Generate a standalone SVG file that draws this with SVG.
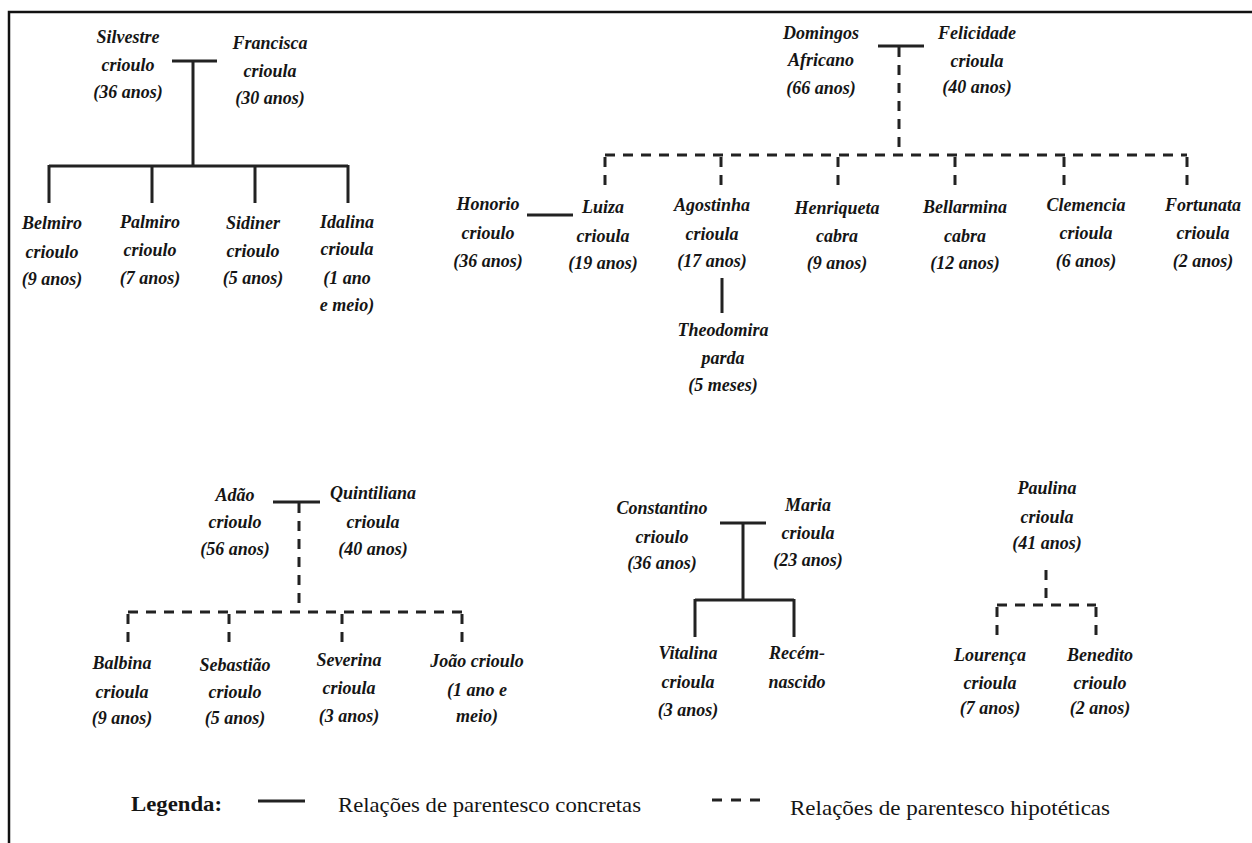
<svg xmlns="http://www.w3.org/2000/svg" width="1252" height="843" viewBox="0 0 1252 843">
<style>
.n{font-family:"Liberation Serif","Times New Roman",serif;font-style:italic;font-weight:bold;font-size:18px;fill:#151515;text-anchor:middle}
.lg{font-family:"Liberation Serif","Times New Roman",serif;font-size:21px;fill:#151515}
.s{stroke:#222;stroke-width:3;fill:none}
.d{stroke:#222;stroke-width:3;fill:none;stroke-dasharray:10 8}
.b{stroke:#111;stroke-width:2.5;fill:none}
</style>
<rect width="1252" height="843" fill="#fff"/>
<path class="b" d="M9 843V12H1252"/>

<g id="connectors">
<!-- family 1 -->
<path class="s" d="M172 61H217M193 61V166M49 166H348M49 165V203M152 165V203M255 165V203M348 165V203"/>
<!-- family 2 -->
<path class="s" d="M878 46H924"/>
<path class="d" d="M899 47V155"/>
<path class="d" d="M605 155H1187"/>
<path class="d" d="M605 157V190M721 157V190M838 157V190M955 157V190M1064 157V190M1187 157V190"/>
<path class="s" d="M527 215H573M722 278V313"/>
<!-- family 3 -->
<path class="s" d="M273 502H320"/>
<path class="d" d="M299 503V610"/>
<path class="d" d="M128 612H462"/>
<path class="d" d="M128 614V645M229 614V645M342 614V645M462 614V645"/>
<!-- family 4 -->
<path class="s" d="M720 523H766M743 523V600M695 600H794M695 599V637M794 599V637"/>
<!-- family 5 -->
<path class="d" d="M1046 570V603"/>
<path class="d" d="M997 605H1096"/>
<path class="d" d="M997 607V637M1096 607V637"/>
</g>

<g id="silvestre"><text class="n" x="128" y="43">Silvestre</text><text class="n" x="128" y="71">crioulo</text><text class="n" x="128" y="98">(36 anos)</text></g>
<g id="francisca"><text class="n" x="270" y="49">Francisca</text><text class="n" x="270" y="77">crioula</text><text class="n" x="270" y="104">(30 anos)</text></g>
<g id="belmiro"><text class="n" x="52" y="229">Belmiro</text><text class="n" x="52" y="258">crioulo</text><text class="n" x="52" y="285">(9 anos)</text></g>
<g id="palmiro"><text class="n" x="150" y="228">Palmiro</text><text class="n" x="150" y="256">crioulo</text><text class="n" x="150" y="284">(7 anos)</text></g>
<g id="sidiner"><text class="n" x="253" y="229">Sidiner</text><text class="n" x="253" y="257">crioulo</text><text class="n" x="253" y="284">(5 anos)</text></g>
<g id="idalina"><text class="n" x="347" y="228">Idalina</text><text class="n" x="347" y="255">crioula</text><text class="n" x="347" y="284">(1 ano</text><text class="n" x="347" y="311">e meio)</text></g>

<g id="domingos"><text class="n" x="821" y="39">Domingos</text><text class="n" x="821" y="66">Africano</text><text class="n" x="821" y="94">(66 anos)</text></g>
<g id="felicidade"><text class="n" x="977" y="39">Felicidade</text><text class="n" x="977" y="67">crioula</text><text class="n" x="977" y="93">(40 anos)</text></g>
<g id="honorio"><text class="n" x="488" y="210">Honorio</text><text class="n" x="488" y="239">crioulo</text><text class="n" x="488" y="267">(36 anos)</text></g>
<g id="luiza"><text class="n" x="603" y="213">Luiza</text><text class="n" x="603" y="242">crioula</text><text class="n" x="603" y="269">(19 anos)</text></g>
<g id="agostinha"><text class="n" x="712" y="211">Agostinha</text><text class="n" x="712" y="240">crioula</text><text class="n" x="712" y="267">(17 anos)</text></g>
<g id="theodomira"><text class="n" x="723" y="336">Theodomira</text><text class="n" x="723" y="364">parda</text><text class="n" x="723" y="391">(5 meses)</text></g>
<g id="henriqueta"><text class="n" x="837" y="214">Henriqueta</text><text class="n" x="837" y="242">cabra</text><text class="n" x="837" y="269">(9 anos)</text></g>
<g id="bellarmina"><text class="n" x="965" y="213">Bellarmina</text><text class="n" x="965" y="242">cabra</text><text class="n" x="965" y="269">(12 anos)</text></g>
<g id="clemencia"><text class="n" x="1086" y="211">Clemencia</text><text class="n" x="1086" y="239">crioula</text><text class="n" x="1086" y="267">(6 anos)</text></g>
<g id="fortunata"><text class="n" x="1203" y="211">Fortunata</text><text class="n" x="1203" y="239">crioula</text><text class="n" x="1203" y="267">(2 anos)</text></g>

<g id="adao"><text class="n" x="235" y="501">Adão</text><text class="n" x="235" y="528">crioulo</text><text class="n" x="235" y="555">(56 anos)</text></g>
<g id="quintiliana"><text class="n" x="373" y="499">Quintiliana</text><text class="n" x="373" y="528">crioula</text><text class="n" x="373" y="555">(40 anos)</text></g>
<g id="balbina"><text class="n" x="122" y="669">Balbina</text><text class="n" x="122" y="698">crioula</text><text class="n" x="122" y="724">(9 anos)</text></g>
<g id="sebastiao"><text class="n" x="235" y="671">Sebastião</text><text class="n" x="235" y="698">crioulo</text><text class="n" x="235" y="724">(5 anos)</text></g>
<g id="severina"><text class="n" x="349" y="666">Severina</text><text class="n" x="349" y="694">crioula</text><text class="n" x="349" y="722">(3 anos)</text></g>
<g id="joao"><text class="n" x="477" y="667">João crioulo</text><text class="n" x="477" y="696">(1 ano e</text><text class="n" x="477" y="722">meio)</text></g>

<g id="constantino"><text class="n" x="662" y="514">Constantino</text><text class="n" x="662" y="543">crioulo</text><text class="n" x="662" y="569">(36 anos)</text></g>
<g id="maria"><text class="n" x="808" y="511">Maria</text><text class="n" x="808" y="539">crioula</text><text class="n" x="808" y="566">(23 anos)</text></g>
<g id="vitalina"><text class="n" x="688" y="659">Vitalina</text><text class="n" x="688" y="688">crioula</text><text class="n" x="688" y="716">(3 anos)</text></g>
<g id="recem"><text class="n" x="797" y="659">Recém-</text><text class="n" x="797" y="688">nascido</text></g>

<g id="paulina"><text class="n" x="1047" y="494">Paulina</text><text class="n" x="1047" y="523">crioula</text><text class="n" x="1047" y="549">(41 anos)</text></g>
<g id="lourenca"><text class="n" x="990" y="661">Lourença</text><text class="n" x="990" y="689">crioula</text><text class="n" x="990" y="714">(7 anos)</text></g>
<g id="benedito"><text class="n" x="1100" y="661">Benedito</text><text class="n" x="1100" y="689">crioulo</text><text class="n" x="1100" y="714">(2 anos)</text></g>

<g id="legend">
<text class="lg" x="131" y="811" font-weight="bold" textLength="91" lengthAdjust="spacingAndGlyphs">Legenda:</text>
<path class="s" d="M258 801H305"/>
<text class="lg" x="338" y="812" textLength="303" lengthAdjust="spacingAndGlyphs">Relações de parentesco concretas</text>
<path class="s" d="M712 800H760" stroke-dasharray="10 9"/>
<text class="lg" x="790" y="815" textLength="320" lengthAdjust="spacingAndGlyphs">Relações de parentesco hipotéticas</text>
</g>
</svg>
